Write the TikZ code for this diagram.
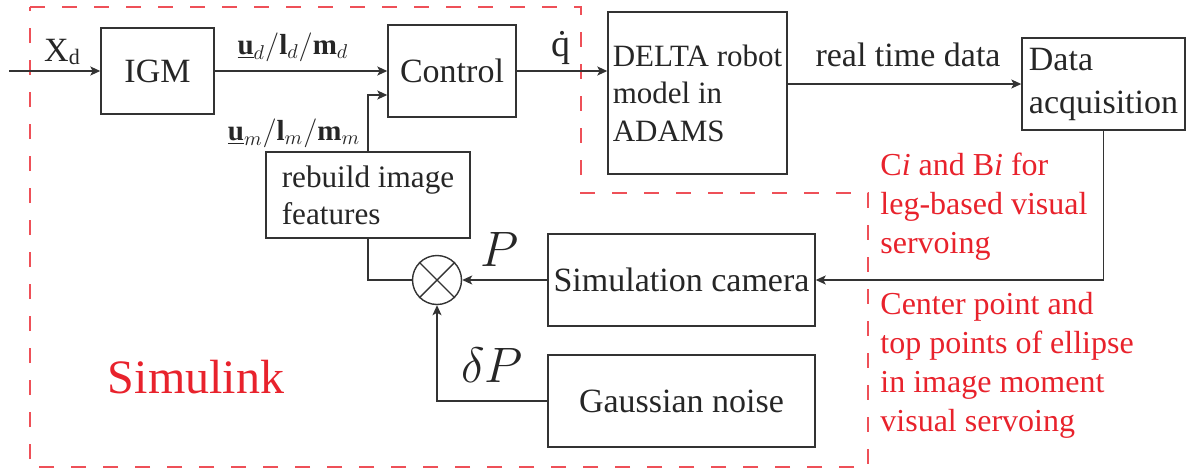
\documentclass[tikz,border=0pt]{standalone}
\usepackage{fontspec}
\setmainfont{LiberationSerif}[Extension=.ttf,UprightFont=*-Regular,ItalicFont=*-Italic,BoldFont=*-Bold,BoldItalicFont=*-BoldItalic]
\usetikzlibrary{arrows.meta}
\definecolor{simRed}{HTML}{E8222C}
\definecolor{simDash}{HTML}{EE5058}
\definecolor{lineGray}{HTML}{333333}
\tikzset{
  blk/.style={draw=lineGray,line width=0.7pt,inner sep=0pt,text=black!85,align=left,font=\fontsize{17}{20}\selectfont},
  lbl/.style={inner sep=0pt,text=black!85},
  redtxt/.style={inner sep=0pt,text=simRed,align=left,anchor=west,font=\fontsize{16}{19.5}\selectfont},
  sig/.style={draw=lineGray,line width=0.7pt,-{Stealth[length=5pt,width=4.5pt,inset=1.2pt]}},
  wire/.style={draw=lineGray,line width=0.7pt},
}
\begin{document}
\begin{tikzpicture}[x=0.5pt,y=-0.5pt]
\useasboundingbox (0,0) rectangle (1187,471);
\draw[simDash,line width=0.8pt,dash pattern=on 7.5pt off 8.5pt] (30,7) -- (581,7) -- (581,193) -- (868,193) -- (868,467) -- (30,467) -- cycle;
\node[blk,minimum width=56.5pt,minimum height=43pt] (igm) at (157.5,71) {IGM};
\node[blk,minimum width=64pt,minimum height=46pt] (ctrl) at (452,71) {Control};
\node[blk,minimum width=89.5pt,minimum height=81pt,font=\fontsize{15.5}{18.75}\selectfont] (robot) at (697.5,93) {DELTA robot\\model in\\ADAMS};
\node[blk,minimum width=81.5pt,minimum height=46pt,font=\fontsize{17}{21.5}\selectfont] (daq) at (1103.5,84) {Data\\acquisition};
\node[blk,minimum width=102pt,minimum height=43pt,font=\fontsize{15.6}{18.5}\selectfont] (rebuild) at (368,195) {rebuild image\\features};
\node[blk,minimum width=133.5pt,minimum height=46pt] (cam) at (681.5,280) {Simulation camera};
\node[blk,minimum width=133.5pt,minimum height=46pt] (noise) at (681.5,401) {Gaussian noise};
\node[draw=lineGray,line width=0.7pt,circle,minimum size=24.5pt,inner sep=0pt] (sum) at (437,280) {};
\draw[wire] (sum.north east) -- (sum.south west) (sum.north west) -- (sum.south east);
\coordinate (in) at (9,71);
\node[lbl,font=\fontsize{17}{20}\selectfont] (xd) at (62,52) {X\raisebox{-1.5pt}{\fontsize{11}{12}\selectfont d}};
\node[lbl,font=\fontsize{14.5}{17}\selectfont] (ud) at (293,47) {$\underline{\mathbf{u}}_d/\mathbf{l}_d/\mathbf{m}_d$};
\node[lbl,font=\fontsize{14.5}{17}\selectfont] (um) at (294,133) {$\underline{\mathbf{u}}_m/\mathbf{l}_m/\mathbf{m}_m$};
\node[lbl,font=\fontsize{19}{20}\selectfont] (qd) at (561,48) {\.{q}};
\node[lbl,font=\fontsize{17}{20}\selectfont] (rtd) at (908,55) {real time data};
\node[lbl,font=\fontsize{24}{26}\selectfont] (p) at (500,249) {$P$};
\node[lbl,font=\fontsize{24}{26}\selectfont] (dp) at (492,365) {$\delta P$};
\node[lbl,text=simRed,font=\fontsize{24}{26}\selectfont] (simlk) at (196,377) {Simulink};
\node[redtxt] (legtxt) at (880,207) {C\textit{i} and B\textit{i} for\\leg-based visual\\servoing};
\node[redtxt] (momtxt) at (880,365) {Center point and\\top points of ellipse\\in image moment\\visual servoing};
\draw[sig] (in) -- (igm);
\draw[sig] (igm) -- (ctrl);
\draw[sig] (rebuild.north) |- ([yshift=-12pt]ctrl.west);
\draw[sig] (ctrl.east) -- (ctrl.east -| robot.west);
\draw[sig] (robot.east |- daq.west) -- (daq.west);
\draw[sig] (daq.south) |- (cam.east);
\draw[sig] (cam.west) -- (sum.east);
\draw[wire] (rebuild.south) |- (sum.west);
\draw[sig] (noise.west) -| (sum.south);
\end{tikzpicture}
\end{document}
